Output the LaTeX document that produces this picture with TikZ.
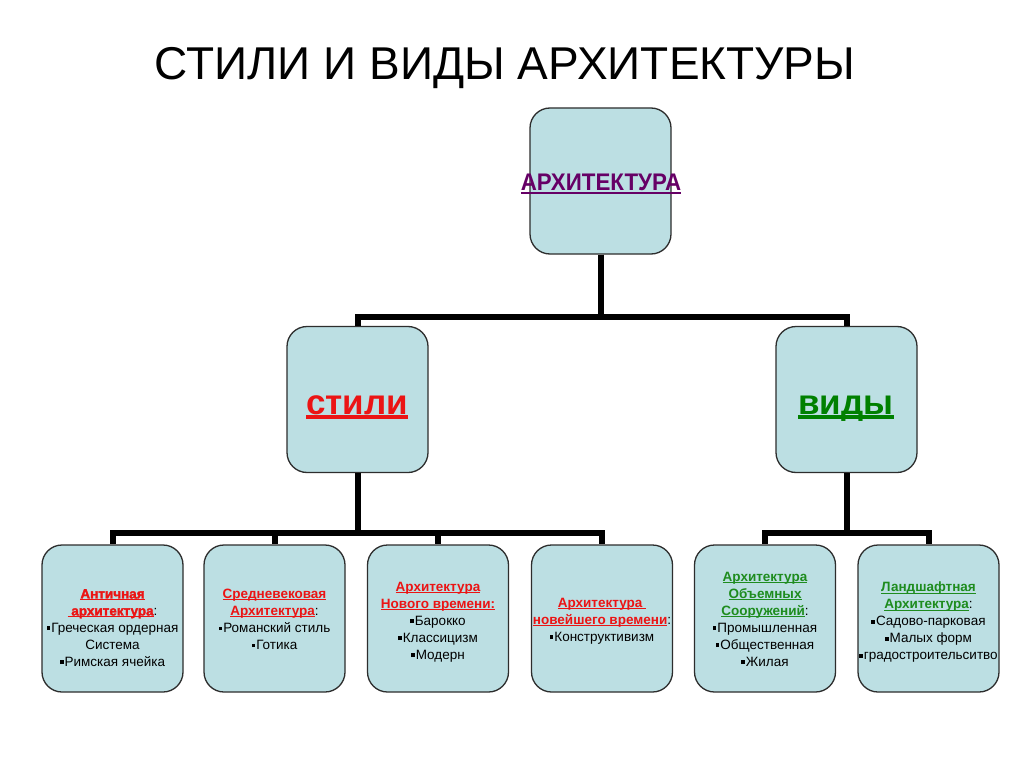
\documentclass[tikz,border=0pt]{standalone}
\usepackage{fontspec}
\setmainfont{Liberation Sans}
\newfontfamily\heavyfont[BoldFeatures={FakeBold=2}]{Liberation Sans}
\definecolor{boxfill}{RGB}{188,223,227}
\definecolor{boxline}{RGB}{45,45,45}
\definecolor{hred}{RGB}{235,20,20}
\definecolor{hgreen}{RGB}{0,128,0}
\definecolor{lgreen}{RGB}{30,140,30}
\definecolor{hpurple}{RGB}{102,0,102}
\newcommand\bul{\raisebox{2.4pt}{\rule{3.6pt}{3.6pt}}\hspace{1pt}}
\newcommand\myul[2][0.075em]{\setbox0\hbox{#2}\rlap{\rule[-0.13em]{\wd0}{#1}}\box0}
\begin{document}
\begin{tikzpicture}[x=1pt,y=-1pt,
  box/.style={draw=boxline,line width=1.3pt,fill=boxfill,rounded corners=20pt,
    minimum width=141pt,inner sep=0pt},
  bigbox/.style={box,minimum height=146pt},
  smallbox/.style={box,minimum height=147pt},
  conn/.style={draw=black,line width=6pt},
  btxt/.style={align=center,inner sep=0pt,anchor=north,font=\fontsize{13.5}{17}\selectfont}]
\useasboundingbox[fill=white] (0,0) rectangle (1024,767);

\node[anchor=base,font=\fontsize{46}{54}\selectfont] (title) at (505,80) {СТИЛИ И ВИДЫ АРХИТЕКТУРЫ};

\node[bigbox] (top) at (600.5,181) {};
\node[bigbox] (stili) at (357.5,399.5) {};
\node[bigbox] (vidy) at (846.5,399.5) {};

\node[smallbox] (b1) at (112.5,618.5) {};
\node[smallbox] (b2) at (274.5,618.5) {};
\node[smallbox] (b3) at (438,618.5) {};
\node[smallbox] (b4) at (602,618.5) {};
\node[smallbox] (b5) at (765,618.5) {};
\node[smallbox] (b6) at (928.5,618.5) {};

\draw[conn] (top.south) -- ++(0,62) -| (stili.north);
\draw[conn] (top.south) -- ++(0,62) -| (vidy.north);
\foreach \b in {b1,b2,b3,b4}{\draw[conn] (stili.south) -- ++(0,60) -| (\b.north);}
\foreach \b in {b5,b6}{\draw[conn] (vidy.south) -- ++(0,60) -| (\b.north);}

\node[anchor=base,text=hpurple,font=\bfseries\fontsize{24}{28}\selectfont] (ttop) at (601,191) {\scalebox{0.93}[1]{\myul[0.09em]{АРХИТЕКТУРА}}};
\node[anchor=base,text=hred,font=\bfseries\fontsize{35}{40}\selectfont] (tstili) at (357,414) {\myul[0.11em]{стили}};
\node[anchor=base,text=hgreen,font=\bfseries\fontsize{35}{40}\selectfont] (tvidy) at (846,414) {\myul[0.11em]{виды}};

\node[btxt] (t1) at (112.5,589) {{\heavyfont\bfseries\color{hred}\myul{Античная}}\\{\heavyfont\bfseries\color{hred}\myul{\ архитектура}}:\\\bul Греческая ордерная\\Система\\\bul Римская ячейка};
\node[btxt] (t2) at (274.5,589) {{\bfseries\color{hred}\myul{Средневековая}}\\{\bfseries\color{hred}\myul{Архитектура}}:\\\bul Романский стиль\\\bul Готика};
\node[btxt] (t3) at (438,582) {{\bfseries\color{hred}\myul{Архитектура}}\\{\bfseries\color{hred}\myul{Нового времени:}}\\\bul Барокко\\\bul Классицизм\\\bul Модерн};
\node[btxt] (t4) at (602,598) {{\bfseries\color{hred}\myul{Архитектура\ }}\\{\bfseries\color{hred}\myul{новейшего времени}}:\\\bul Конструктивизм};
\node[btxt] (t5) at (765,572) {{\bfseries\color{lgreen}\myul{Архитектура}}\\{\bfseries\color{lgreen}\myul{Объемных}}\\{\bfseries\color{lgreen}\myul{Сооружений}}:\\\bul Промышленная\\\bul Общественная\\\bul Жилая};
\node[btxt] (t6) at (928.5,582) {{\bfseries\color{lgreen}\myul{Ландшафтная}}\\{\bfseries\color{lgreen}\myul{Архитектура}}:\\\bul Садово-парковая\\\bul Малых форм\\\bul градостроительситво};
\end{tikzpicture}
\end{document}
